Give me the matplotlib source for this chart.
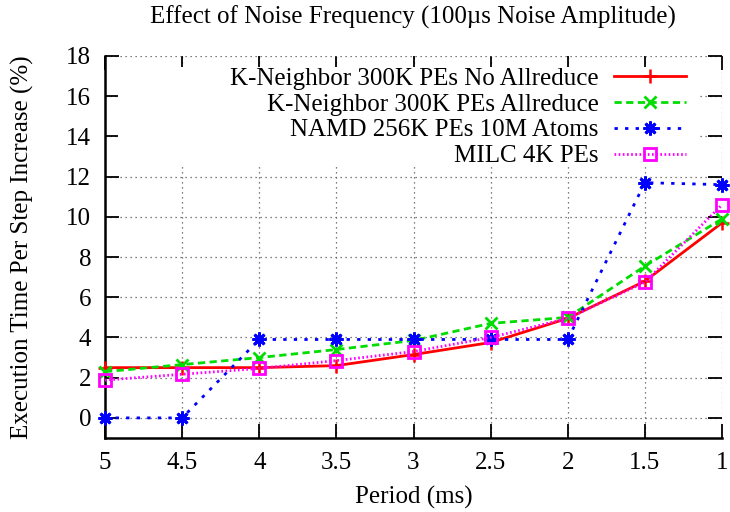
import matplotlib
matplotlib.use("Agg")
import matplotlib.pyplot as plt
from matplotlib.patches import Rectangle

period = [5, 4.5, 4, 3.5, 3, 2.5, 2, 1.5, 1]
period_labels = ["5", "4.5", "4", "3.5", "3", "2.5", "2", "1.5", "1"]
kn_no_allreduce = [2.5, 2.5, 2.5, 2.6, 3.15, 3.75, 4.95, 6.8, 9.7]
kn_allreduce = [2.3, 2.65, 3.0, 3.4, 3.85, 4.7, 5.0, 7.55, 9.9]
namd = [0.0, 0.0, 3.9, 3.9, 3.9, 3.9, 3.9, 11.7, 11.6]
milc = [1.88, 2.17, 2.46, 2.85, 3.3, 4.0, 4.95, 6.75, 10.6]
y_ticks = [0, 2, 4, 6, 8, 10, 12, 14, 16, 18]

series_names = ["K-Neighbor 300K PEs No Allreduce", "K-Neighbor 300K PEs Allreduce",
                "NAMD 256K PEs 10M Atoms", "MILC 4K PEs"]

plt.rcParams['font.family'] = ['Liberation Serif', 'DejaVu Serif']
FS = 18

W, H = 730, 512
fig = plt.figure(figsize=(W / 100, H / 100), dpi=100)
L, R, T, B = 105, 722, 56, 438
ax = fig.add_axes([L / W, 1 - B / H, (R - L) / W, (B - T) / H])

ax.plot(period, kn_no_allreduce, color='#ff0000', lw=2.0, ls='-', marker='+', ms=10,
        mew=1.8, label=series_names[0], clip_on=False, zorder=3)
ax.plot(period, kn_allreduce, color='#00dd00', lw=2.0, ls=(0, (2.6, 1.6)), marker='x', ms=8,
        mew=2.0, label=series_names[1], clip_on=False, zorder=3)
ax.plot(period, namd, color='#0000ff', lw=2.0, ls=(0, (1.2, 2.6)), marker=(8, 2, 0), ms=10,
        mew=2.0, label=series_names[2], clip_on=False, zorder=3)
ax.plot(period, milc, color='#ff00ff', lw=2.0, ls=(0, (0.6, 0.9)), marker='s', ms=9,
        mew=2.0, mfc='none', label=series_names[3], clip_on=False, zorder=3)

ax.set_xlim(5, 1)
ax.set_ylim(-1, 18)
ax.set_xticks(period)
ax.set_xticklabels(period_labels)
ax.set_yticks(y_ticks)
ax.tick_params(direction='in', top=True, right=True, length=10, width=1.3,
               labelsize=FS, pad=10, color='black')
ax.grid(True, color='#555555', ls=(0, (1, 3)), lw=0.9)
ax.set_axisbelow(True)
for s in ['top', 'right']:
    ax.spines[s].set_visible(False)
for s in ['left', 'bottom']:
    ax.spines[s].set_linewidth(1.8)

# opaque key background
ax.add_patch(Rectangle(((118 - L) / (R - L), (B - 166) / (B - T)),
                       (698 - 118) / (R - L), (166 - 67) / (B - T),
                       transform=ax.transAxes, facecolor='white', edgecolor='none', zorder=1))

leg = ax.legend(loc='upper right', bbox_to_anchor=((686 - L) / (R - L), (B - 67) / (B - T)),
                frameon=False, fontsize=FS, markerfirst=False, handlelength=2.9,
                handletextpad=0.6, labelspacing=0.14, borderpad=0, borderaxespad=0)

ax.set_xlabel("Period (ms)", fontsize=FS)
ax.xaxis.label.set_va('center')
ax.xaxis.set_label_coords(0.5, (B - 497) / (B - T))
ax.set_ylabel("Execution Time Per Step Increase (%)", fontsize=FS)
ax.yaxis.label.set_va('center')
ax.yaxis.set_label_coords((22 - L) / (R - L), 0.5)

fig.text(413 / W, 1 - 17 / H, "Effect of Noise Frequency (100\u00b5s Noise Amplitude)",
         fontsize=FS, ha='center', va='center')

fig.savefig("out.png", dpi=100)
